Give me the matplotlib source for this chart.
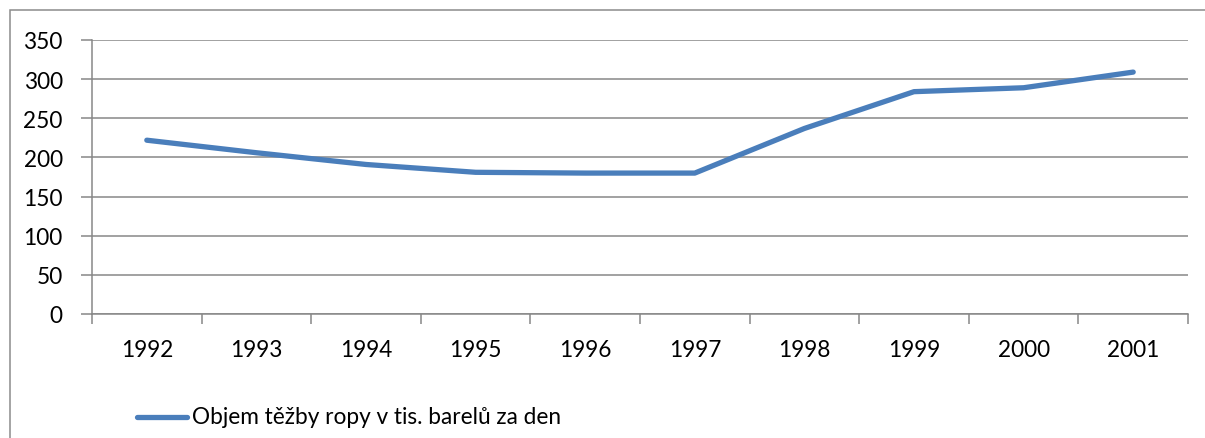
import matplotlib
matplotlib.use("Agg")
import matplotlib.pyplot as plt
from matplotlib.patches import Rectangle
from matplotlib.lines import Line2D

years = ["1992", "1993", "1994", "1995", "1996", "1997", "1998", "1999", "2000", "2001"]
values = [222, 206, 191, 181, 180, 180, 237, 284, 289, 309]
series_label = "Objem těžby ropy v tis. barelů za den"

plt.rcParams['font.family'] = ['Lato', 'DejaVu Sans']

W, H = 1205, 439
fig = plt.figure(figsize=(W / 100, H / 100), dpi=100)
ax = fig.add_axes([92 / W, 1 - 315 / H, (1188 - 92) / W, (315 - 41) / H])

grid_c = "#878787"
line_c = "#4a7ebb"
fs = 16.3

x = list(range(len(years)))
ax.plot(x, values, color=line_c, lw=3.8, solid_capstyle='round', solid_joinstyle='round', zorder=3)

ax.set_ylim(0, 350)
ax.set_xlim(-0.5, len(years) - 0.5)
ax.set_yticks(range(0, 351, 50))
ax.yaxis.grid(True, color=grid_c, lw=1.1)
ax.set_axisbelow(True)

ax.set_xticks([i - 0.5 for i in range(len(years) + 1)])
ax.set_xticklabels([])
ax.set_xticks(x, minor=True)
ax.set_xticklabels(years, minor=True)
ax.tick_params(axis='x', which='major', length=7, width=1.1, color=grid_c, direction='out')
ax.tick_params(axis='x', which='minor', length=0, pad=18, labelsize=fs)
ax.tick_params(axis='y', length=8, width=1.1, color=grid_c, pad=13, labelsize=fs)

for s in ['top', 'right']:
    ax.spines[s].set_visible(False)
for s in ['left', 'bottom']:
    ax.spines[s].set_color(grid_c)
    ax.spines[s].set_linewidth(1.1)

# outer chart frame
fig.patches.append(Rectangle((10 / W, -0.01), 1.02, 1 - 11 / H + 0.01, transform=fig.transFigure,
                             fill=False, edgecolor="#8c8c8c", lw=1.1))

# legend
fig.add_artist(Line2D([137 / W, 187 / W], [1 - 418 / H, 1 - 418 / H], transform=fig.transFigure,
                      color=line_c, lw=3.8, solid_capstyle='round'))
fig.text(192 / W, 1 - 418 / H, series_label, fontsize=fs, va='center', ha='left')

fig.savefig("out.png", dpi=100)
